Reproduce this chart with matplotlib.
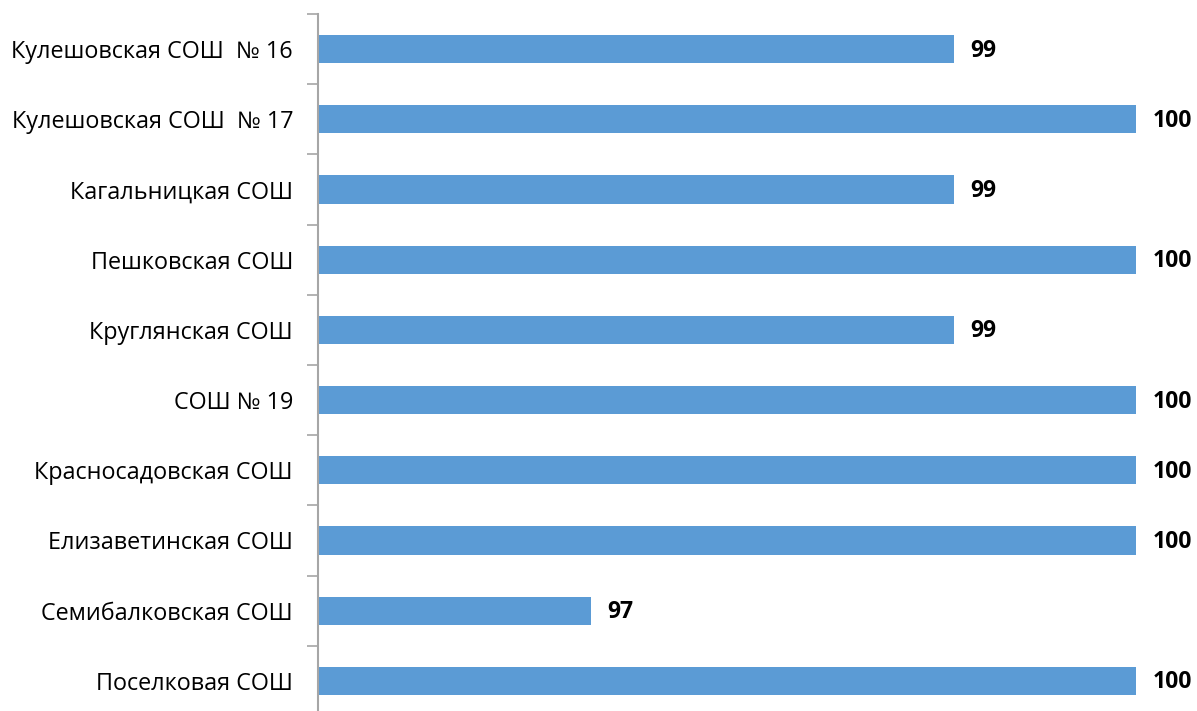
import numpy as np
import matplotlib
matplotlib.use('Agg')
import matplotlib.pyplot as plt

schools = ['Кулешовская СОШ  № 16', 'Кулешовская СОШ  № 17', 'Кагальницкая СОШ',
           'Пешковская СОШ', 'Круглянская СОШ', 'СОШ № 19', 'Красносадовская СОШ',
           'Елизаветинская СОШ', 'Семибалковская СОШ', 'Поселковая СОШ']
values = [99, 100, 99, 100, 99, 100, 100, 100, 97, 100]

plt.rcParams['font.family'] = ['Open Sans', 'DejaVu Sans']

fig = plt.figure(figsize=(11.97, 7.11), dpi=100)
W, H = 1197, 711
ax = fig.add_axes([318 / W, -5 / H, (1136 - 318) / W, (716 - 14) / H])

y = np.arange(len(schools))
ax.barh(y, values, height=0.4, color='#5B9BD5', left=0)
ax.set_xlim(95.5, 100)
ax.set_ylim(len(schools) - 0.5, -0.5)

for yi, v in zip(y, values):
    ax.text(v + 0.09, yi + 0.02, str(v), va='center', ha='left', fontsize=16.5,
            fontweight='bold', color='black', clip_on=False)

ax.set_yticks(y)
ax.set_yticklabels(schools, fontsize=16.8)
ax.set_yticks(np.arange(-0.5, len(schools), 1), minor=True)
ax.tick_params(axis='y', which='major', length=0, pad=18)
ax.tick_params(axis='y', which='minor', length=8, width=1.2, color='#A6A6A6')
ax.set_xticks([])

for s in ['top', 'right', 'bottom']:
    ax.spines[s].set_visible(False)
ax.spines['left'].set_color('#A6A6A6')
ax.spines['left'].set_linewidth(1.5)

plt.savefig('out.png', dpi=100)
